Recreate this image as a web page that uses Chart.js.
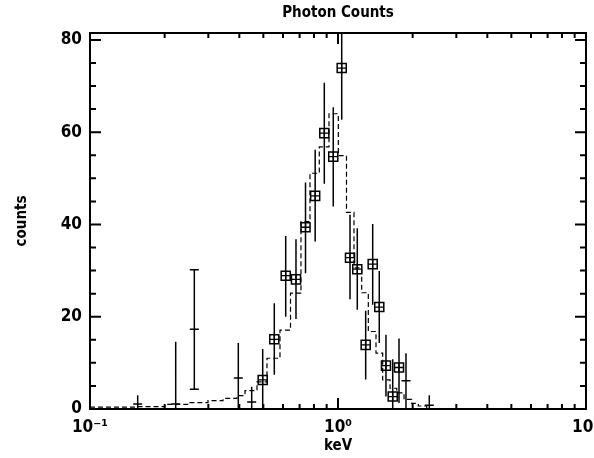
<!DOCTYPE html>
<html>
<head>
<meta charset="utf-8">
<script src="https://cdn.jsdelivr.net/npm/chart.js@4.4.0/dist/chart.umd.min.js"></script>
<style>
  html, body { margin: 0; padding: 0; background: #fff; }
</style>
</head>
<body>
<canvas id="spectrum" width="594" height="458"></canvas>
<script>
// data points drawn as boxes (keV, counts, lower, upper)
const boxEnergy = [0.497, 0.5535, 0.6154, 0.677, 0.7396, 0.809, 0.8806, 0.957, 1.035, 1.118, 1.196, 1.293, 1.380, 1.467, 1.561, 1.662, 1.762];
const boxCounts = [6.3, 15.1, 28.9, 28.1, 39.4, 46.2, 59.8, 54.7, 73.9, 32.8, 30.3, 13.9, 31.4, 22.1, 9.4, 2.7, 9.0];
const boxLower  = [0, 7.4, 20.0, 19.5, 29.4, 36.3, 48.8, 43.9, 62.7, 23.8, 21.5, 6.4, 22.6, 14.3, 2.7, 0, 1.3];
const boxUpper  = [13.0, 22.9, 37.5, 36.8, 49.1, 56.2, 70.7, 65.4, 85.5, 42.1, 39.2, 21.3, 40.1, 29.9, 16.1, 10.8, 15.3];

// data points drawn as plain crosses
const crossEnergy = [0.1557, 0.2216, 0.2634, 0.3963, 0.4487, 1.880, 2.334];
const crossCounts = [1.1, 1.1, 17.3, 6.7, 1.5, 6.1, 0.8];
const crossLower  = [0, 0, 4.3, 0, 0, 0, 0];
const crossUpper  = [3.0, 14.6, 30.2, 14.3, 4.8, 12.1, 3.0];
const cappedIndex = [2];

// model histogram: lower bin edges (keV) and bin values
const modelEdges  = [0.1, 0.1547, 0.2006, 0.2531, 0.2991, 0.3438, 0.3915, 0.4217, 0.4713, 0.5172, 0.5835, 0.6434, 0.7091, 0.7709, 0.8406, 0.9198, 1.003, 1.082, 1.160, 1.246, 1.325, 1.423, 1.514, 1.621, 1.725, 1.846, 1.983, 2.108, 2.279, 2.500];
const modelValues = [0.4, 0.5, 1.0, 1.4, 1.8, 2.3, 2.9, 4.0, 5.9, 11.0, 17.1, 25.1, 40.6, 51.1, 56.8, 64.0, 54.9, 42.6, 30.6, 25.2, 16.8, 12.1, 6.3, 4.5, 3.5, 2.1, 1.2, 0.65, 0.1, 0];

const xTicks = [0.1, 0.2, 0.3, 0.4, 0.5, 0.6, 0.7, 0.8, 0.9, 1, 2, 3, 4, 5, 6, 7, 8, 9, 10];
const xTickLabels = { 0.1: '10\u207B\u00B9', 1: '10\u2070', 10: '10\u00B9' };
const yTicks = [0, 5, 10, 15, 20, 25, 30, 35, 40, 45, 50, 55, 60, 65, 70, 75, 80];
const yMajor = [0, 20, 40, 60, 80];

const FONT = "'Liberation Sans Narrow', 'DejaVu Sans Condensed', sans-serif";
const halfBar = Math.pow(10, 4.5 / 248);   // short horizontal marks, about 9 px wide

function verticalBars(xs, lo, hi) {
    const out = [];
    xs.forEach((x, i) => { out.push({ x: x, y: lo[i] }, { x: x, y: hi[i] }, { x: x, y: null }); });
    return out;
}

function horizontalBars(xs, ys) {
    const out = [];
    xs.forEach((x, i) => { out.push({ x: x / halfBar, y: ys[i] }, { x: x * halfBar, y: ys[i] }, { x: x, y: null }); });
    return out;
}

const modelData = modelEdges.map((e, i) => ({ x: e, y: modelValues[i] }));
const boxPoints = boxEnergy.map((e, i) => ({ x: e, y: boxCounts[i] }));

const capX = cappedIndex.map(i => crossEnergy[i]);
const caps = horizontalBars(capX.concat(capX),
    cappedIndex.map(i => crossLower[i]).concat(cappedIndex.map(i => crossUpper[i])));

const errorData = verticalBars(boxEnergy.concat(crossEnergy), boxLower.concat(crossLower), boxUpper.concat(crossUpper))
    .concat(horizontalBars(crossEnergy, crossCounts))
    .concat(caps);

// frame and inward ticks on all four sides, title centred over the plot
const frameTicks = {
    id: 'frameTicks',
    afterLayout(chart) {
        const t = chart.titleBlock;
        if (t) { t.left = chart.chartArea.left; t.right = chart.chartArea.right; }
    },
    afterDraw(chart) {
        const { ctx, chartArea: a, scales: { x, y } } = chart;
        ctx.save();
        ctx.strokeStyle = '#000';
        ctx.lineWidth = 2;
        ctx.strokeRect(a.left, a.top, a.right - a.left, a.bottom - a.top);
        ctx.beginPath();
        xTicks.forEach(v => {
            const px = x.getPixelForValue(v);
            const len = xTickLabels[v] ? 11 : 5;
            ctx.moveTo(px, a.bottom); ctx.lineTo(px, a.bottom - len);
            ctx.moveTo(px, a.top); ctx.lineTo(px, a.top + len);
        });
        yTicks.forEach(v => {
            const py = y.getPixelForValue(v);
            const len = yMajor.includes(v) ? 11 : 6;
            ctx.moveTo(a.left, py); ctx.lineTo(a.left + len, py);
            ctx.moveTo(a.right, py); ctx.lineTo(a.right - len, py);
        });
        ctx.stroke();
        ctx.restore();
    }
};

new Chart(document.getElementById('spectrum'), {
    type: 'line',
    data: {
        datasets: [
            {
                label: 'model',
                data: modelData,
                stepped: 'before',
                borderColor: '#000',
                borderWidth: 1.2,
                borderDash: [5, 3],
                pointRadius: 0,
                fill: false
            },
            {
                label: 'errors',
                data: errorData,
                borderColor: '#000',
                borderWidth: 1.5,
                pointRadius: 0,
                spanGaps: false,
                fill: false
            },
            {
                label: 'boxes',
                data: boxPoints,
                showLine: false,
                pointStyle: 'rect',
                pointRadius: 6.4,
                pointBorderWidth: 1.5,
                pointBorderColor: '#000',
                pointBackgroundColor: 'rgba(0,0,0,0)'
            },
            {
                label: 'plus',
                data: boxPoints,
                showLine: false,
                pointStyle: 'cross',
                pointRadius: 4.5,
                pointBorderWidth: 1.3,
                pointBorderColor: '#000'
            }
        ]
    },
    options: {
        responsive: false,
        animation: false,
        events: [],
        layout: { padding: { left: 0, right: 8, top: 0, bottom: 0 } },
        plugins: {
            legend: { display: false },
            tooltip: { enabled: false },
            title: {
                display: true,
                text: 'Photon Counts',
                color: '#000',
                font: { family: FONT, size: 15, weight: 'bold', lineHeight: 1 },
                padding: { top: 6, bottom: 12 }
            }
        },
        scales: {
            x: {
                type: 'logarithmic',
                min: 0.1,
                max: 10,
                grid: { display: false, drawTicks: false },
                border: { display: false },
                afterBuildTicks: s => { s.ticks = xTicks.map(v => ({ value: v })); },
                afterFit: s => { s.height = 49; s.paddingLeft = 0; s.paddingRight = 0; },
                ticks: {
                    autoSkip: false,
                    maxRotation: 0,
                    padding: 8,
                    color: '#000',
                    font: { family: FONT, size: 17, weight: 'bold' },
                    callback: v => xTickLabels[v] || ''
                },
                title: {
                    display: true,
                    text: 'keV',
                    color: '#000',
                    font: { family: FONT, size: 15, weight: 'bold', lineHeight: 1.2 },
                    padding: { top: 0, bottom: 3 }
                }
            },
            y: {
                type: 'linear',
                min: 0,
                max: 81.5,
                grid: { display: false, drawTicks: false },
                border: { display: false },
                afterBuildTicks: s => { s.ticks = yTicks.map(v => ({ value: v })); },
                afterFit: s => { s.width = 90; },
                ticks: {
                    autoSkip: false,
                    padding: 8,
                    color: '#000',
                    font: { family: FONT, size: 17, weight: 'bold' },
                    callback: v => (yMajor.includes(v) ? String(v) : '')
                },
                title: {
                    display: true,
                    text: 'counts',
                    color: '#000',
                    font: { family: FONT, size: 15, weight: 'bold', lineHeight: 1.2 },
                    padding: { top: 13, bottom: 0 }
                }
            }
        }
    },
    plugins: [frameTicks]
});
</script>
</body>
</html>
